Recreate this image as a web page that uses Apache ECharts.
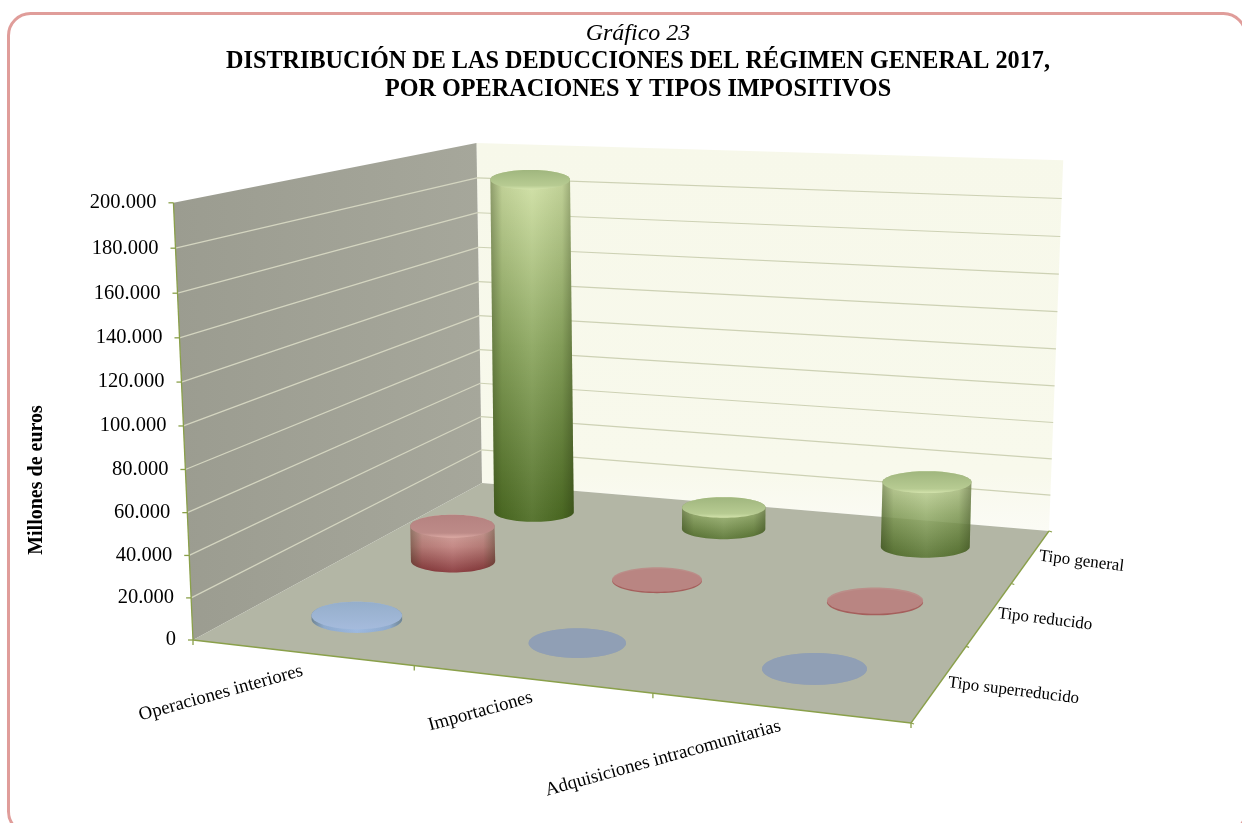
<!DOCTYPE html>
<html><head><meta charset="utf-8">
<style>html,body{margin:0;padding:0;background:#fff}#c{width:1242px;height:823px}</style>
<script src="https://cdn.jsdelivr.net/npm/echarts@6/dist/echarts.min.js"></script>
</head><body><div id="c"></div>
<script>
const operaciones = ['Operaciones interiores','Importaciones','Adquisiciones intracomunitarias'];
const tipos = ['Tipo general','Tipo reducido','Tipo superreducido'];
const tipoGeneral = [186000, 12000, 35000];
const tipoReducido = [18500, 700, 800];
const tipoSuperreducido = [1800, 60, 80];
const yTickLabels = ['0','20.000','40.000','60.000','80.000','100.000','120.000','140.000','160.000','180.000','200.000'];
const yMax = 200000, yStep = 20000;

const W = 1242, H = 823, SERIF = '"Liberation Serif","Times New Roman",serif';
// Perspective of the chart box: floor corners and wall tops on screen
const fA=[193,640], fB=[911,723], fC=[1049,531], fD=[482,483];
const tA=[173,203], tD=[477,143], tC=[1063,160];

function homography(p0,p1,p2,p3){ // (0,0),(1,0),(1,1),(0,1)
  const dx1=p1[0]-p2[0], dx2=p3[0]-p2[0], sx=p0[0]-p1[0]+p2[0]-p3[0];
  const dy1=p1[1]-p2[1], dy2=p3[1]-p2[1], sy=p0[1]-p1[1]+p2[1]-p3[1];
  const d=dx1*dy2-dx2*dy1, g=(sx*dy2-dx2*sy)/d, h=(dx1*sy-sx*dy1)/d;
  return [p1[0]-p0[0]+g*p1[0], p3[0]-p0[0]+h*p3[0], p0[0],
          p1[1]-p0[1]+g*p1[1], p3[1]-p0[1]+h*p3[1], p0[1], g, h, 1];
}
const M = homography(fA,fB,fC,fD);
function hom(u,v){return [M[0]*u+M[1]*v+M[2], M[3]*u+M[4]*v+M[5], M[6]*u+M[7]*v+M[8]];}
// vertical direction by least squares on the three wall-top corners
const vert = (function(){
  const rows=[];
  [[0,0,tA],[0,1,tD],[1,1,tC]].forEach(function(c){
    const f=hom(c[0],c[1]), x=c[2][0], y=c[2][1];
    rows.push([1,0,-x,x*f[2]-f[0]]); rows.push([0,1,-y,y*f[2]-f[1]]);
  });
  const A=[[0,0,0,0],[0,0,0,0],[0,0,0,0]];
  rows.forEach(function(r){for(let i=0;i<3;i++){for(let j=0;j<3;j++)A[i][j]+=r[i]*r[j];A[i][3]+=r[i]*r[3];}});
  for(let i=0;i<3;i++){let p=i;for(let k=i+1;k<3;k++)if(Math.abs(A[k][i])>Math.abs(A[p][i]))p=k;
    const t=A[i];A[i]=A[p];A[p]=t;
    for(let k=0;k<3;k++){if(k===i)continue;const m=A[k][i]/A[i][i];for(let j=i;j<4;j++)A[k][j]-=m*A[i][j];}}
  return [A[0][3]/A[0][0],A[1][3]/A[1][1],A[2][3]/A[2][2]];
})();
function proj(u,v,t){
  const f=hom(u,v), q=f[2]+t*vert[2];
  return [(f[0]+t*vert[0])/q,(f[1]+t*vert[1])/q];
}
// read the hidden value axis / category axis through the library's scales
function uOf(api,i){return api.coord([i,0])[0]/W;}
function tOf(api,val){return 1-api.coord([0,val])[1]/H;}
const vOf = function(j){return 1-(j+0.5)/tipos.length;};

const lin=function(x,y,x2,y2,stops){return new echarts.graphic.LinearGradient(x,y,x2,y2,stops.map(function(s){return {offset:s[0],color:s[1]};}));};
const poly=function(pts,style){return {type:'polygon',shape:{points:pts},style:style,silent:true};};
const line=function(a,b,stroke,w){return {type:'line',shape:{x1:a[0],y1:a[1],x2:b[0],y2:b[1]},style:{stroke:stroke,lineWidth:w||1},silent:true};};
const txt=function(p,text,font,align,rot,vAlign){return {type:'text',x:p[0],y:p[1],rotation:(rot||0)*Math.PI/180,silent:true,
  style:{text:text,font:font,fill:'#000',align:align,verticalAlign:vAlign||'middle'}};};

function renderFrame(params,api){
  const ch=[], OL='#8aa04a';
  const wallL=[proj(0,0,0),proj(0,0,1),proj(0,1,1),proj(0,1,0)];
  const wallB=[proj(0,1,0),proj(0,1,1),proj(1,1,1),proj(1,1,0)];
  const floor=[proj(0,0,0),proj(1,0,0),proj(1,1,0),proj(0,1,0)];
  ch.push(poly(wallB,{fill:lin(0,0,0,1,[[0,'#f7f8ea'],[0.85,'#f8f9ec'],[1,'#fbfbf5']])}));
  ch.push(poly(wallL,{fill:lin(0,0,1,0,[[0,'#9b9c90'],[1,'#a6a79b']])}));
  for(let i=1;i<yTickLabels.length;i++){
    const t=tOf(api,i*yStep);
    if(i<yTickLabels.length-1) ch.push(line(proj(0,0,t),proj(0,1,t),'#d4d5c0',1.3));
    if(i<yTickLabels.length-1) ch.push(line(proj(0,1,t),proj(1,1,t),'#cdd1b4',1.2));
  }
  ch.push(poly(floor,{fill:'#b3b6a5'}));
  ch.push(line(proj(0,0,0),proj(1,0,0),OL,1.3));
  ch.push(line(proj(1,0,0),proj(1,1,0),OL,1.3));
  ch.push(line(proj(0,0,0),proj(0,0,1),OL,1.3));
  yTickLabels.forEach(function(lab,i){
    const p=proj(0,0,tOf(api,i*yStep));
    ch.push(line([p[0]-5,p[1]],p,OL,1.3));
    ch.push(txt([p[0]-17,p[1]],lab,'20.5px '+SERIF,'right'));
  });
  for(let i=0;i<=operaciones.length;i++){
    const p=proj(i/operaciones.length,0,0);
    ch.push(line(p,[p[0],p[1]+5],OL,1.3));
  }
  for(let j=0;j<=tipos.length;j++){
    const p=proj(1,j/tipos.length,0);
    ch.push(line(p,[p[0]+3,p[1]+1],OL,1.3));
  }
  operaciones.forEach(function(lab,i){
    const e=proj(uOf(api,i),0,0);
    ch.push(txt([e[0]+1,e[1]+18],lab,'18.8px '+SERIF,'right',15.5));
  });
  tipos.forEach(function(lab,j){
    const e=proj(1,vOf(j),0);
    ch.push(txt([e[0]+8,e[1]],lab,'17px '+SERIF,'left',-7));
  });
  ch.push({type:'text',x:37,y:480,rotation:Math.PI/2,silent:true,
    style:{text:'Millones de euros',font:'bold 20px '+SERIF,fill:'#000',align:'center',verticalAlign:'middle'}});
  return {type:'group',children:ch};
}

const PAL=[
 {body:[[0,'#d3e3a8'],[0.5,'#8aa55e'],[1,'#4b6a22']],cap:[[0,'#a0b67e'],[0.8,'#b7cb92'],[1,'#d3e3ac']],flat:'#9fb47a',rim:'#6d8440'},
 {body:[[0,'#e6bbb4'],[0.55,'#c27878'],[1,'#7f2028']],cap:[[0,'#b58280'],[0.8,'#bd8b88'],[1,'#dcaaa4']],flat:'#bb8986',rim:'#a2504f'},
 {body:[[0,'#a8c3ea'],[1,'#8fb2e6']],cap:[[0,'#95aecb'],[1,'#a5bbdc']],flat:'#8f9fb5',rim:'#8f9fb5'}
];
const RU=0.071, RV=0.072;
function makeBarRender(j){
  return function(params,api){
    const i=api.value(0), val=api.value(1);
    const u=uOf(api,i), v=vOf(j), t=tOf(api,val), pal=PAL[j];
    const base=proj(u,v,0), head=proj(u,v,t);
    const wB=proj(u+RU,v,0)[0]-proj(u-RU,v,0)[0], wT=proj(u+RU,v,t)[0]-proj(u-RU,v,t)[0];
    const rx=(wB+wT)/4, ry=Math.abs(proj(u,v+RV,0)[1]-proj(u,v-RV,0)[1])/2;
    const N=72, bot=[], top=[];
    for(let k=0;k<N;k++){
      const a=k/N*2*Math.PI;
      bot.push([base[0]+rx*Math.cos(a),base[1]+ry*Math.sin(a)]);
      top.push([head[0]+rx*Math.cos(a),head[1]+ry*Math.sin(a)]);
    }
    const front=[],back=[];
    for(let k=N/2;k>=0;k--) front.push(bot[k]);     // lower half of the base, left to right
    for(let k=N/2;k<=N;k++) back.push(top[k%N]);    // upper half of the top, right to left
    const sil=front.concat(back.reverse()), ch=[];
    if(val<1500){
      ch.push(poly(bot,{fill:pal.rim,opacity:0.85}));
      ch.push(poly(top,{fill:pal.flat,opacity:0.9}));
    } else {
      ch.push(poly(sil,{fill:lin(0,0,0,1,pal.body),opacity:val>100000?1:0.86}));
      ch.push(poly(sil,{fill:lin(0,0,1,0,[[0,'rgba(30,40,10,0.36)'],[0.14,'rgba(30,40,10,0.08)'],[0.5,'rgba(255,255,240,0.08)'],[0.86,'rgba(30,40,10,0.08)'],[1,'rgba(30,40,10,0.36)']])}));
      ch.push(poly(top,{fill:lin(0,0,0,1,pal.cap)}));
    }
    return {type:'group',children:ch};
  };
}
function barSeries(name,j,values){
  return {type:'custom',name:name,coordinateSystem:'cartesian2d',xAxisIndex:0,yAxisIndex:0,silent:true,animation:false,clip:false,
    encode:{x:0,y:1},renderItem:makeBarRender(j),
    data:values.map(function(val,i){return [i,val];})};
}
const chart=echarts.init(document.getElementById('c'),null,{renderer:'canvas'});
chart.setOption({
  animation:false,backgroundColor:'#fff',
  title:[
    {text:'Gráfico 23',left:638,top:22,padding:0,textAlign:'center',textStyle:{fontFamily:SERIF,fontSize:24,fontStyle:'italic',fontWeight:'normal',color:'#000'}},
    {text:'DISTRIBUCIÓN DE LAS DEDUCCIONES DEL RÉGIMEN GENERAL 2017,\nPOR OPERACIONES Y TIPOS IMPOSITIVOS',left:638,top:48,padding:0,
     textAlign:'center',textStyle:{fontFamily:SERIF,fontSize:24.2,fontWeight:'bold',color:'#000',lineHeight:28,align:'center'}}
  ],
  grid:{left:0,right:0,top:0,bottom:0,containLabel:false},
  xAxis:{type:'category',data:operaciones,show:false},
  yAxis:{type:'value',min:0,max:yMax,interval:yStep,show:false},
  graphic:[{type:'rect',z:-1,silent:true,shape:{x:8.5,y:13.5,width:1237,height:820,r:22},style:{fill:'none',stroke:'#e09d9a',lineWidth:3}}],
  series:[
    {type:'custom',name:'marco',coordinateSystem:'cartesian2d',silent:true,animation:false,clip:false,renderItem:renderFrame,data:[[0,0]],encode:{x:0,y:1}},
    barSeries(tipos[0],0,tipoGeneral),
    barSeries(tipos[1],1,tipoReducido),
    barSeries(tipos[2],2,tipoSuperreducido)
  ]
});
</script></body></html>
